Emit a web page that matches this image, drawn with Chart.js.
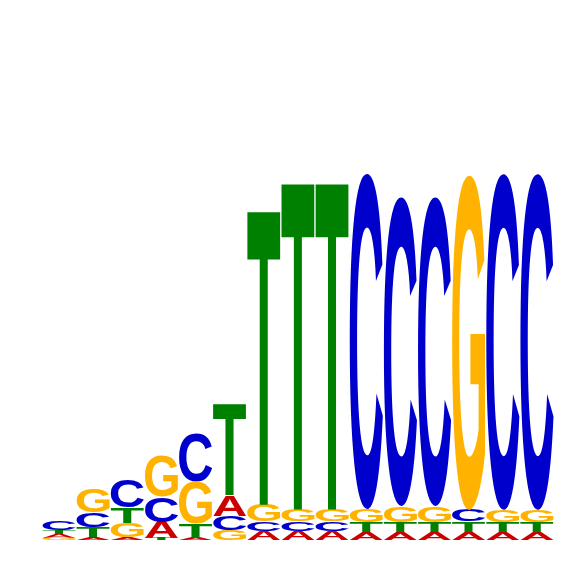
<!DOCTYPE html>
<html>
<head>
<meta charset="utf-8">
<title>Sequence logo</title>
<script src="https://cdn.jsdelivr.net/npm/chart.js@4.4.1/dist/chart.umd.min.js"></script>
<style>
  html, body { margin: 0; padding: 0; background: #fff; }
  #wrap { width: 566px; height: 566px; }
</style>
</head>
<body>
<div id="wrap"><canvas id="logoChart"></canvas></div>
<script>
// Positions of the motif
const positions = ["1", "2", "3", "4", "5", "6", "7", "8", "9", "10", "11", "12", "13", "14", "15"];

// Letter heights in bits, per position
const heightA = [0.019, 0.016, 0.016, 0.084, 0.011, 0.111, 0.047, 0.047, 0.047, 0.042, 0.042, 0.042, 0.042, 0.042, 0.042];
const heightC = [0.047, 0.074, 0.147, 0.132, 0.258, 0.074, 0.050, 0.050, 0.050, 1.768, 1.628, 1.628, 0.060, 1.772, 1.772];
const heightG = [0.011, 0.126, 0.074, 0.216, 0.221, 0.053, 0.089, 0.063, 0.063, 0.068, 0.084, 0.084, 1.765, 0.063, 0.063];
const heightT = [0.021, 0.053, 0.079, 0.011, 0.074, 0.484, 1.555, 1.728, 1.728, 0.053, 0.053, 0.053, 0.055, 0.053, 0.053];

// Y axis range in bits
const yMax = 2;

const letters = ["A", "C", "G", "T"];
const letterColors = { A: "#cc0000", C: "#0000cc", G: "#ffb300", T: "#008000" };

/* -------------------------------
   Stack letters: smallest at the bottom
--------------------------------*/
function buildRanges() {
  const heights = { A: heightA, C: heightC, G: heightG, T: heightT };
  const ranges = { A: [], C: [], G: [], T: [] };
  positions.forEach((_, i) => {
    const order = letters.slice().sort((a, b) => heights[a][i] - heights[b][i]);
    let base = 0;
    order.forEach(l => {
      ranges[l][i] = [base, base + heights[l][i]];
      base += heights[l][i];
    });
  });
  return ranges;
}

/* -------------------------------
   Draw each bar as a stretched glyph
--------------------------------*/
const glyphPlugin = {
  id: "glyphs",
  afterDatasetsDraw(chart) {
    const ctx = chart.ctx;
    ctx.save();
    ctx.font = 'bold 200px "Liberation Sans", Arial, sans-serif';
    ctx.textAlign = "left";
    ctx.textBaseline = "alphabetic";
    chart.data.datasets.forEach((ds, di) => {
      const meta = chart.getDatasetMeta(di);
      const letter = ds.label;
      const m = ctx.measureText(letter);
      const gw = m.actualBoundingBoxLeft + m.actualBoundingBoxRight;
      const gh = m.actualBoundingBoxAscent + m.actualBoundingBoxDescent;
      meta.data.forEach(bar => {
        const p = bar.getProps(["x", "y", "base", "width"], true);
        const top = Math.min(p.y, p.base);
        const h = Math.abs(p.base - p.y);
        if (h < 0.5) return;
        const left = p.x - p.width / 2;
        ctx.save();
        ctx.translate(left, top);
        ctx.scale(p.width / gw, h / gh);
        ctx.fillStyle = letterColors[letter];
        ctx.fillText(letter, m.actualBoundingBoxLeft, m.actualBoundingBoxAscent);
        ctx.restore();
      });
    });
    ctx.restore();
  }
};

document.addEventListener("DOMContentLoaded", () => {
  const ranges = buildRanges();
  new Chart(document.getElementById("logoChart"), {
    type: "bar",
    data: {
      labels: positions,
      datasets: letters.map(l => ({
        label: l,
        data: ranges[l],
        backgroundColor: "rgba(0,0,0,0)",
        borderWidth: 0,
        barPercentage: 1,
        categoryPercentage: 0.97,
        grouped: false
      }))
    },
    options: {
      responsive: true,
      maintainAspectRatio: false,
      animation: false,
      layout: { padding: { left: 42, right: 12, top: 160, bottom: 26 } },
      plugins: {
        legend: { display: false },
        tooltip: { enabled: false }
      },
      scales: {
        x: { display: false },
        y: { display: false, min: 0, max: yMax }
      }
    },
    plugins: [glyphPlugin]
  });
});
</script>
</body>
</html>
